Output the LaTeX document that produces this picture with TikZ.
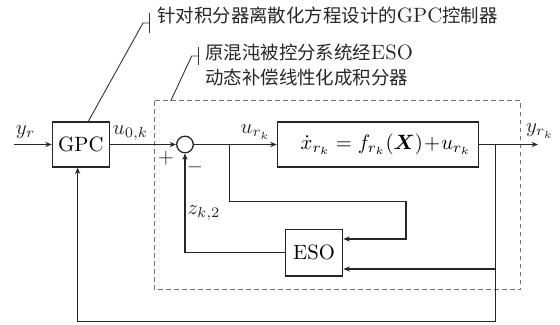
\RequirePackage{fix-cm}
\documentclass[tikz,border=0pt]{standalone}
\usepackage{fontspec}
\usepackage{bm}
\newfontfamily\cjk[Scale=0.89]{Noto Sans CJK SC}
\usetikzlibrary{arrows.meta,calc}
\begin{document}
\begin{tikzpicture}[x=0.5pt,y=-0.5pt,
  font=\fontsize{10.35}{12.5}\selectfont,
  blk/.style={draw=black!85, line width=0.65pt, minimum width=28.5pt, minimum height=22.5pt, inner sep=0pt},
  sig/.style={draw=black!85, line width=0.65pt, -{Stealth[length=3.2pt,width=2.6pt]}},
  wire/.style={draw=black!85, line width=0.65pt},
  lead/.style={draw=black!80, line width=0.45pt},
  dashbox/.style={draw=black!55, line width=0.5pt, dash pattern=on 2.4pt off 1.6pt},
  lbl/.style={inner sep=0pt, text=black!85}]
\useasboundingbox (0,0) rectangle (560,325);
% blocks
\node[blk] (gpc) at (80.8,144.5) {GPC};
\node[draw=black!85, circle, line width=0.65pt, minimum size=8.3pt, inner sep=0pt] (sum) at (185,144.5) {};
\node[blk, minimum width=100.5pt] (plant) at (377.8,144.5) {\hspace*{8pt}$\dot{x}_{r_k}=f_{r_k}(\bm{X})\!+\!u_{r_k}$};
\node[blk, minimum width=28.7pt, minimum height=23.3pt] (eso) at (314,252.7) {ESO};
% dashed region
\coordinate (dtl) at (154,101);
\coordinate (dbr) at (520.7,289.3);
\draw[dashbox] (dtl) rectangle (dbr);
% coordinates
\coordinate (in) at (14,144.5);
\coordinate (out) at (538,144.5);
\coordinate (b1) at (229.3,144.5);
\coordinate (b1d) at (229.3,201.7);
\coordinate (b1r) at (406,201.7);
\coordinate (b1e) at (406,239);
\coordinate (b2) at (495.5,144.5);
\coordinate (b2e) at (495.5,269);
\coordinate (b2d) at (495.5,321.7);
\coordinate (fbl) at (77.7,321.7);
% signals
\draw[sig] (in) -- (gpc);
\draw[sig] (gpc) -- (sum);
\draw[sig] (sum) -- (plant);
\draw[sig] (plant) -- (out);
\draw[sig] (b1) -- (b1d) -- (b1r) -- (b1e) -- (b1e -| eso.east);
\draw[sig] (b2e) -- (b2e -| eso.east);
\draw[sig] (b2) -- (b2d) -- (fbl) -- (fbl |- gpc.south);
\draw[sig] (eso.west) -| (sum.south);
% labels
\node[lbl] (yr) at (25.5,132) {$y_r$};
\node[lbl] (u0) at (130.5,133) {$u_{0,k}$};
\node[lbl] (ur) at (255.5,132) {$u_{r_k}$};
\node[lbl] (yrk) at (540,131) {$y_{r_k}$};
\node[lbl] (zk) at (204,213) {$z_{k,2}$};
\node[lbl] (plus) at (166,158) {$+$};
\node[lbl] (minus) at (195,167) {$-$};
% annotations
\coordinate (l1s) at ($(gpc.north)+(7.5,0)$);
\coordinate (l1k) at (143,23);
\coordinate (l1h) at (149.3,23);
\coordinate (l1t) at (149.3,13);
\coordinate (l1b) at (149.3,33);
\draw[lead] (l1s) -- (l1k) -- (l1h);
\draw[lead] (l1t) -- (l1b);
\node[lbl, anchor=west] (t1) at (157,15) {{\cjk 针对积分器离散化方程设计的}GPC{\cjk 控制器}};
\coordinate (l2s) at (170.7,101);
\coordinate (l2k) at (191.7,56);
\coordinate (l2h) at (198.3,56);
\coordinate (l2t) at (198.3,47);
\coordinate (l2b) at (198.3,65);
\draw[lead] (l2s) -- (l2k) -- (l2h);
\draw[lead] (l2t) -- (l2b);
\node[lbl, anchor=west, align=left] (t2) at (205,65.5) {{\cjk 原混沌被控分系统经}ESO\\{\cjk 动态补偿线性化成积分器}};
\end{tikzpicture}
\end{document}
